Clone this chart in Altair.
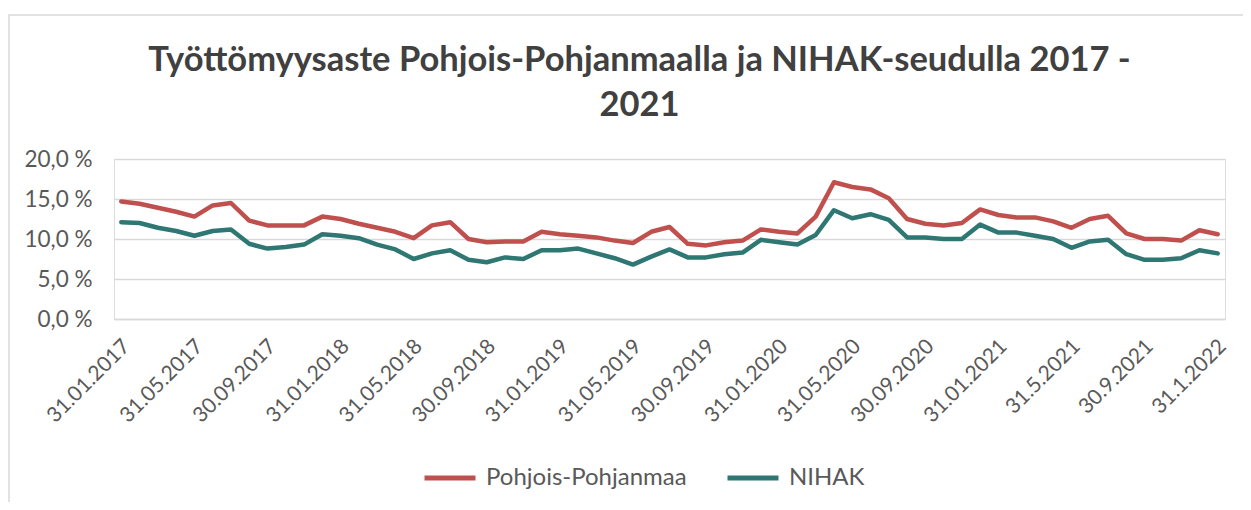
import altair as alt
import pandas as pd

# month-end category labels, Jan 2017 .. Jan 2022
month_days = [31, 28, 31, 30, 31, 30, 31, 31, 30, 31, 30, 31]
labels = []
for k in range(61):
    y = 2017 + k // 12
    m = k % 12 + 1
    d = month_days[m - 1] + (1 if (m == 2 and y % 4 == 0) else 0)
    if k <= 48:
        labels.append(f"{d:02d}.{m:02d}.{y}")
    else:
        labels.append(f"{d}.{m}.{y}")

pohjois = [14.7, 14.4, 13.9, 13.4, 12.8, 14.2, 14.5, 12.3, 11.7, 11.7, 11.7, 12.8,
           12.5, 11.9, 11.4, 10.9, 10.1, 11.7, 12.1, 10.0, 9.6, 9.7, 9.7, 10.9,
           10.6, 10.4, 10.2, 9.8, 9.5, 10.9, 11.5, 9.4, 9.2, 9.6, 9.8, 11.2,
           10.9, 10.7, 12.8, 17.1, 16.5, 16.2, 15.1, 12.5, 11.9, 11.7, 12.0, 13.7,
           13.0, 12.7, 12.7, 12.2, 11.4, 12.5, 12.9, 10.7, 10.0, 10.0, 9.8, 11.1,
           10.6]
nihak = [12.1, 12.0, 11.4, 11.0, 10.4, 11.0, 11.2, 9.4, 8.8, 9.0, 9.3, 10.6,
         10.4, 10.1, 9.3, 8.7, 7.5, 8.2, 8.6, 7.4, 7.1, 7.7, 7.5, 8.6,
         8.6, 8.8, 8.2, 7.6, 6.8, 7.8, 8.7, 7.7, 7.7, 8.1, 8.3, 9.9,
         9.6, 9.3, 10.5, 13.6, 12.6, 13.1, 12.4, 10.2, 10.2, 10.0, 10.0, 11.8,
         10.8, 10.8, 10.4, 10.0, 8.9, 9.7, 9.9, 8.1, 7.4, 7.4, 7.6, 8.6,
         8.2]
series_names = ["Pohjois-Pohjanmaa", "NIHAK"]
series_colors = ["#C0504D", "#2F7773"]

rows = []
for name, vals in zip(series_names, [pohjois, nihak]):
    for i, (lab, v) in enumerate(zip(labels, vals)):
        rows.append({"Kuukausi": lab, "i": i, "Sarja": name, "Arvo": v})
df = pd.DataFrame(rows)

FONT = "Lato"
TXT = "#595959"

lines = alt.Chart(df).mark_line(strokeWidth=4.5, strokeJoin="round", strokeCap="round").encode(
    x=alt.X("Kuukausi:N", sort=labels,
            scale=alt.Scale(type="point", padding=0.4),
            axis=alt.Axis(values=labels[::4], labelAngle=-45, labelAlign="right",
                          labelBaseline="middle", labelPadding=24, labelOffset=5,
                          ticks=False, domainColor="#D9D9D9", domainWidth=1.5, grid=False,
                          labelFontSize=21, labelFont=FONT, labelColor=TXT, title=None,
                          labelOverlap=False)),
    y=alt.Y("Arvo:Q", scale=alt.Scale(domain=[0, 20]),
            axis=alt.Axis(values=[0, 5, 10, 15, 20], grid=True, gridColor="#D9D9D9",
                          gridWidth=1.5, domain=False, ticks=False, labelPadding=22,
                          labelExpr="replace(format(datum.value, '.1f'), '.', ',') + ' %'",
                          labelFontSize=22.5, labelFont=FONT, labelColor=TXT, title=None)),
    color=alt.Color("Sarja:N", scale=alt.Scale(domain=series_names, range=series_colors),
                    legend=alt.Legend(title=None, orient="none", direction="horizontal",
                                      legendX=308, legendY=291,
                                      symbolType="stroke", symbolSize=2600,
                                      symbolStrokeWidth=5, labelFontSize=24,
                                      labelFont=FONT, labelColor=TXT, labelOffset=8,
                                      labelLimit=0, columnPadding=30)),
    detail="Sarja:N",
    order="i:Q",
)

frame = alt.Chart(pd.DataFrame({"a": [0]})).mark_rect(
    fill="transparent", stroke="#D9D9D9", strokeWidth=1.5
).encode(
    x=alt.value(-105), x2=alt.value(1140), y=alt.value(-144), y2=alt.value(400)
)

chart = alt.layer(frame, lines).properties(
    width=1111, height=160,
    padding={"left": 106, "top": 151, "right": 18, "bottom": 183},
    autosize=alt.AutoSizeParams(type="none"),
    title=alt.TitleParams(
        ["Työttömyysaste Pohjois-Pohjanmaalla ja NIHAK-seudulla 2017 -", "2021"],
        anchor="middle", frame="group", dx=-30, offset=38, dy=147, fontSize=34.5,
        font=FONT, fontWeight="bold", color="#404040", lineHeight=45,
    ),
).configure_view(stroke=None).configure(background="white")

chart.save("out.html", embed_options={"renderer": "svg", "actions": False})
